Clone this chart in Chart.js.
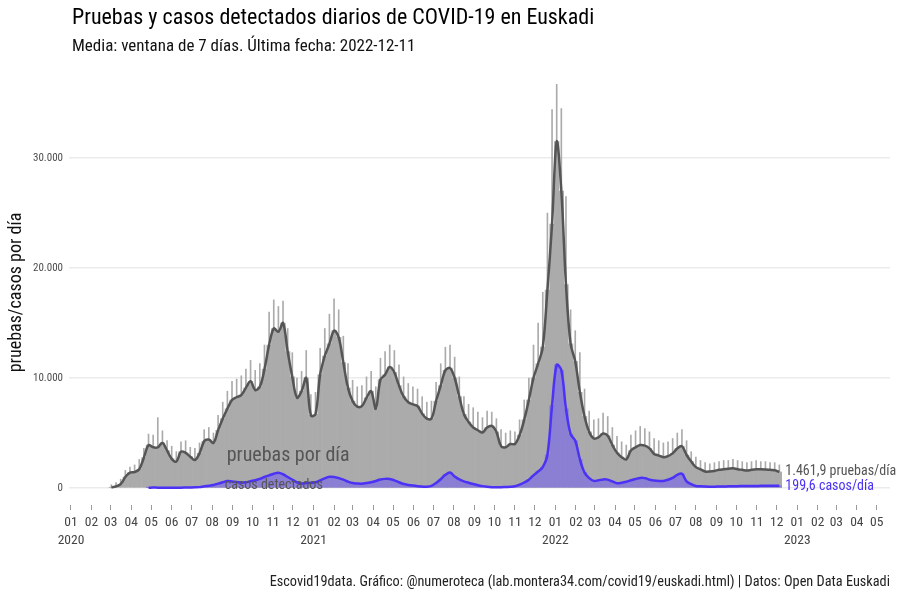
<!DOCTYPE html>
<html>
<head>
<meta charset="utf-8">
<script src="https://cdn.jsdelivr.net/npm/chart.js@4/dist/chart.umd.min.js"></script>
<style>
  body { margin: 0; background: #fff; }
  #wrap { position: relative; width: 900px; height: 600px; font-family: 'Liberation Sans Narrow', 'Roboto Condensed', Roboto, sans-serif; }
  #wrap canvas { position: absolute; left: 0; top: 0; }
  .titulo { position: absolute; left: 72px; top: 4px; font-size: 22px; color: #000; white-space: nowrap; }
  .subtitulo { position: absolute; left: 72px; top: 35px; font-size: 17px; color: #111; white-space: nowrap; }
  .fuente { position: absolute; right: 10px; top: 573px; font-size: 14.3px; color: #222; white-space: nowrap; }
</style>
</head>
<body>
<div id="wrap">
  <canvas id="grafico" width="900" height="600"></canvas>
  <div class="titulo">Pruebas y casos detectados diarios de COVID-19 en Euskadi</div>
  <div class="subtitulo">Media: ventana de 7 días. Última fecha: 2022-12-11</div>
  <div class="fuente">Escovid19data. Gráfico: @numeroteca (lab.montera34.com/covid19/euskadi.html) | Datos: Open Data Euskadi</div>
</div>
<script>
// Semanas desde el lunes 2020-03-02 (un valor por semana)
const semanaInicio = '2020-03-02';
const ultimaFecha = '2022-12-11';

// Media de 7 días de pruebas por día
const pruebasMedia = [
    50, 150, 350, 1000, 1400, 1450, 1700, 2750, 3900, 3700,
    3700, 4100, 3400, 2650, 2400, 3300, 3200, 2850, 2550, 3150,
    4250, 4400, 4100, 5250, 6300, 7200, 8000, 8250, 8450, 9100,
    9700, 8900, 9200, 10800, 13000, 14500, 14200, 15000, 12400, 10100,
    8200, 8800, 10000, 6600, 6700, 10300, 12000, 13100, 14300, 13700,
    11400, 9100, 7900, 7400, 7450, 8200, 8800, 7200, 9850, 10300,
    11000, 10500, 9300, 8300, 7800, 7600, 7450, 6750, 6300, 6300,
    7900, 9300, 10700, 10900, 10000, 8300, 6700, 6000, 5500, 5250,
    5050, 5500, 5650, 5100, 3800, 3700, 4000, 4000, 4800, 6200,
    8000, 10000, 11300, 12800, 18000, 24000, 31500, 27000, 18500, 13100,
    11500, 8700, 6500, 5100, 4500, 4600, 4950, 4750, 3900, 3200,
    2800, 2600, 3400, 3700, 3900, 3850, 3600, 3100, 2950, 2800,
    2900, 3150, 3600, 3800, 3000, 2400, 1900, 1700, 1500, 1500,
    1550, 1650, 1700, 1750, 1800, 1700, 1650, 1580, 1650, 1700,
    1700, 1680, 1650, 1620, 1462
];

// Máximo diario de pruebas en cada semana
const pruebasMax = [
    300, 500, 800, 1600, 1900, 2100, 2600, 3600, 4900, 4800,
    6400, 5200, 4300, 3800, 3300, 4200, 4300, 3700, 3600, 4100,
    5300, 5500, 5000, 6600, 7800, 8800, 9700, 9900, 10200, 10800,
    11600, 10700, 11300, 13000, 16000, 17100, 16500, 17000, 14500, 12300,
    10000, 10600, 12500, 8500, 8700, 12700, 14500, 15800, 17200, 16200,
    13800, 11300, 9800, 9200, 9300, 10100, 10600, 9200, 11800, 12400,
    13000, 12500, 11200, 10100, 9500, 9200, 9000, 8300, 7800, 7900,
    9600, 11300, 12800, 13000, 11900, 10100, 8300, 7600, 7300, 6900,
    6400, 7000, 6900, 6300, 5300, 5000, 5200, 5100, 6200, 8000,
    10000, 13000, 15000, 17800, 25000, 34400, 36700, 34500, 26500, 16200,
    14300, 12300, 9000, 7000, 6200, 6300, 6800, 6500, 5500, 4700,
    4200, 3900, 4800, 5200, 5600, 5400, 5100, 4500, 4300, 4100,
    4200, 4500, 5000, 5300, 4300, 3300, 2800, 2500, 2300, 2200,
    2300, 2400, 2500, 2500, 2600, 2500, 2400, 2300, 2400, 2500,
    2400, 2400, 2300, 2300, 2100
];

// Media de 7 días de casos detectados (sin datos hasta finales de abril 2020)
const casosMedia = [
    null, null, null, null, null, null, null, null, 30, 40,
    30, 30, 30, 30, 30, 30, 40, 50, 60, 80,
    150, 200, 270, 400, 520, 630, 600, 550, 490, 520,
    620, 710, 830, 1000, 1150, 1300, 1390, 1250, 1000, 760,
    520, 420, 450, 470, 520, 700, 880, 1020, 1000, 900,
    760, 580, 450, 410, 390, 460, 530, 640, 780, 830,
    820, 700, 520, 360, 280, 220, 170, 130, 120, 200,
    450, 800, 1200, 1400, 1050, 780, 600, 480, 360, 250,
    170, 110, 70, 60, 70, 90, 110, 160, 300, 500,
    750, 1150, 1500, 1900, 3000, 7500, 11200, 10700, 7200, 4900,
    4300, 2600, 1400, 900, 650, 700, 780, 760, 600, 430,
    480, 570, 700, 820, 920, 900, 750, 680, 640, 640,
    750, 920, 1200, 1300, 600, 350, 180, 150, 130, 120,
    120, 130, 140, 150, 160, 170, 175, 180, 185, 190,
    195, 200, 200, 200, 200
];

const anios = [2020, 2021, 2022, 2023];
const meses = ['01', '02', '03', '04', '05', '06', '07', '08', '09', '10', '11', '12'];
const ultimoMesEje = '2023-05';
const ejeY = [0, 10000, 20000, 30000];

const etiquetaPruebas = '1.461,9 pruebas/día';
const etiquetaCasos = '199,6 casos/día';
const valorFinalPruebas = 1461.9;
const valorFinalCasos = 199.6;

const colores = {
    barras: '#ababab',
    pruebas: '#555555',
    casos: '#4b32f5',
    relleno: '#8a7fd3',
    texto: '#555555'
};

const FUENTE = "'Liberation Sans Narrow', 'Roboto Condensed', Roboto, sans-serif";
const DIA = 86400000;
const origen = Date.UTC(2020, 0, 1);

function diaDe(texto) {
    const p = texto.split('-').map(Number);
    return (Date.UTC(p[0], p[1] - 1, p[2] || 1) - origen) / DIA;
}

const dia0 = diaDe(semanaInicio);
const puntos = arr => arr.map((v, i) => ({ x: dia0 + 7 * i, y: v }));

// ticks mensuales del eje x
const ticksX = [];
const etiquetasX = {};
anios.forEach(a => {
    meses.forEach(m => {
        const clave = a + '-' + m;
        if (clave > ultimoMesEje) return;
        const d = diaDe(clave);
        ticksX.push(d);
        etiquetasX[d] = m === '01' ? [m, String(a)] : m;
    });
});

function miles(v) {
    return String(v).replace(/\B(?=(\d{3})+(?!\d))/g, '.');
}

const textos = {
    id: 'textos',
    afterDatasetsDraw(chart) {
        const ctx = chart.ctx;
        const x = chart.scales.x, y = chart.scales.y;
        ctx.save();
        ctx.textBaseline = 'middle';
        ctx.textAlign = 'left';

        ctx.fillStyle = colores.texto;
        ctx.font = '20px ' + FUENTE;
        ctx.fillText('pruebas por día', x.getPixelForValue(diaDe('2020-08-23')), y.getPixelForValue(2900));
        ctx.font = '14px ' + FUENTE;
        ctx.fillText('casos detectados', x.getPixelForValue(diaDe('2020-08-20')), y.getPixelForValue(250));

        const xFin = x.getPixelForValue(diaDe(ultimaFecha)) + 2;
        ctx.font = '14px ' + FUENTE;
        ctx.fillStyle = colores.texto;
        ctx.fillText(etiquetaPruebas, xFin, y.getPixelForValue(valorFinalPruebas));
        ctx.fillStyle = colores.casos;
        ctx.fillText(etiquetaCasos, xFin, y.getPixelForValue(valorFinalCasos) + 1);
        ctx.restore();
    }
};

new Chart(document.getElementById('grafico'), {
    type: 'bar',
    data: {
        datasets: [
            {
                type: 'line',
                label: 'casos media',
                data: puntos(casosMedia),
                borderColor: colores.casos,
                borderWidth: 2.5,
                pointRadius: 0,
                tension: 0.35,
                spanGaps: false,
                order: 0
            },
            {
                type: 'line',
                label: 'pruebas media',
                data: puntos(pruebasMedia),
                borderColor: colores.pruebas,
                borderWidth: 2.5,
                pointRadius: 0,
                tension: 0.35,
                order: 1
            },
            {
                label: 'casos',
                data: puntos(casosMedia),
                backgroundColor: colores.relleno,
                barPercentage: 1,
                categoryPercentage: 1,
                grouped: false,
                order: 2
            },
            {
                label: 'pruebas max',
                data: puntos(pruebasMax),
                backgroundColor: colores.barras,
                barThickness: 1,
                grouped: false,
                order: 3
            },
            {
                label: 'pruebas',
                data: puntos(pruebasMedia),
                backgroundColor: colores.barras,
                barPercentage: 1,
                categoryPercentage: 1,
                grouped: false,
                order: 4
            }
        ]
    },
    options: {
        responsive: false,
        animation: false,
        layout: { padding: { top: 80, right: 10, bottom: 45, left: 0 } },
        plugins: {
            legend: { display: false },
            tooltip: { enabled: false }
        },
        scales: {
            x: {
                type: 'linear',
                offset: false,
                min: -3,
                max: 1236,
                afterBuildTicks: axis => { axis.ticks = ticksX.map(v => ({ value: v })); },
                afterFit: axis => {
                    axis.height = 50;
                    axis.paddingLeft = 0;
                    axis.paddingRight = 0;
                },
                grid: { offset: false, drawOnChartArea: false, drawTicks: true, tickLength: 5, color: '#9a9a9a' },
                border: { display: false },
                ticks: {
                    autoSkip: false,
                    maxRotation: 0,
                    padding: 4,
                    color: '#444',
                    font: { family: FUENTE, size: 13.5, lineHeight: 1.3 },
                    callback: v => etiquetasX[v]
                }
            },
            y: {
                min: -1545,
                max: 37090,
                afterBuildTicks: axis => { axis.ticks = ejeY.map(v => ({ value: v })); },
                afterFit: axis => {
                    axis.width = 69;
                    axis.paddingTop = 0;
                    axis.paddingBottom = 0;
                },
                grid: { color: '#ebebeb', lineWidth: 1.5, drawTicks: false },
                border: { display: false },
                title: {
                    display: true,
                    text: 'pruebas/casos por día',
                    color: '#111',
                    font: { family: FUENTE, size: 18 },
                    padding: { top: 6, bottom: 12 }
                },
                ticks: {
                    padding: 6,
                    color: '#4d4d4d',
                    font: { family: FUENTE, size: 11 },
                    callback: v => miles(v)
                }
            }
        }
    },
    plugins: [textos]
});
</script>
</body>
</html>
